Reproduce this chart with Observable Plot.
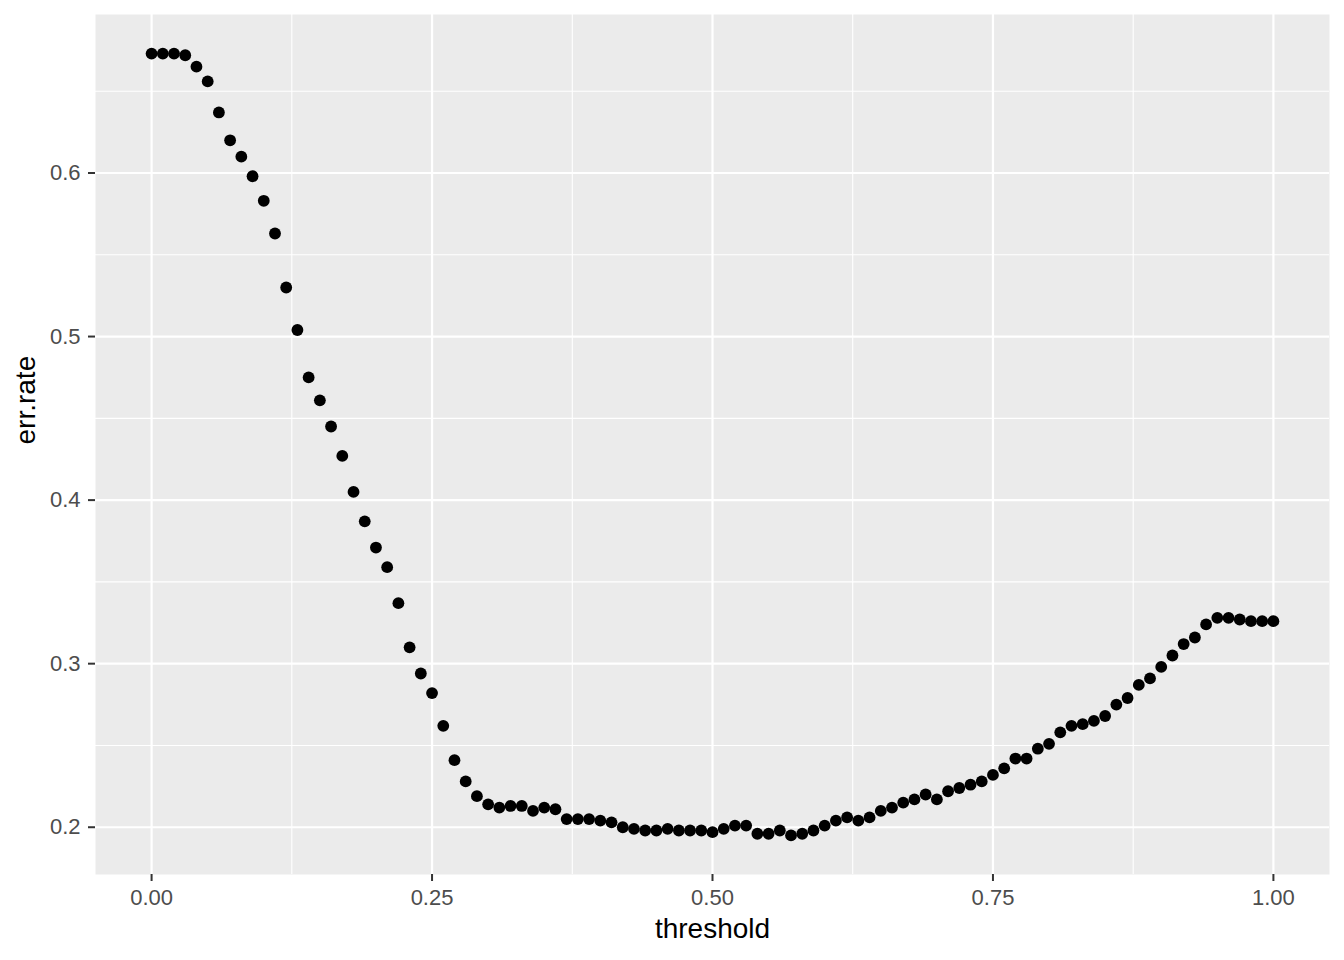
<!DOCTYPE html>
<html>
<head>
<meta charset="utf-8">
<script src="https://cdn.jsdelivr.net/npm/d3@7"></script>
<script src="https://cdn.jsdelivr.net/npm/@observablehq/plot@0.6"></script>
<style>
  html, body { margin: 0; padding: 0; background: #ffffff; }
  #chart svg { display: block; }
</style>
</head>
<body>
<div id="chart"></div>
<script>
const threshold = [0.00,0.01,0.02,0.03,0.04,0.05,0.06,0.07,0.08,0.09,
  0.10,0.11,0.12,0.13,0.14,0.15,0.16,0.17,0.18,0.19,
  0.20,0.21,0.22,0.23,0.24,0.25,0.26,0.27,0.28,0.29,
  0.30,0.31,0.32,0.33,0.34,0.35,0.36,0.37,0.38,0.39,
  0.40,0.41,0.42,0.43,0.44,0.45,0.46,0.47,0.48,0.49,
  0.50,0.51,0.52,0.53,0.54,0.55,0.56,0.57,0.58,0.59,
  0.60,0.61,0.62,0.63,0.64,0.65,0.66,0.67,0.68,0.69,
  0.70,0.71,0.72,0.73,0.74,0.75,0.76,0.77,0.78,0.79,
  0.80,0.81,0.82,0.83,0.84,0.85,0.86,0.87,0.88,0.89,
  0.90,0.91,0.92,0.93,0.94,0.95,0.96,0.97,0.98,0.99,1.00];

const errRate = [0.673,0.673,0.673,0.672,0.665,0.656,0.637,0.620,0.610,0.598,
  0.583,0.563,0.530,0.504,0.475,0.461,0.445,0.427,0.405,0.387,
  0.371,0.359,0.337,0.310,0.294,0.282,0.262,0.241,0.228,0.219,
  0.214,0.212,0.213,0.213,0.210,0.212,0.211,0.205,0.205,0.205,
  0.204,0.203,0.200,0.199,0.198,0.198,0.199,0.198,0.198,0.198,
  0.197,0.199,0.201,0.201,0.196,0.196,0.198,0.195,0.196,0.198,
  0.201,0.204,0.206,0.204,0.206,0.210,0.212,0.215,0.217,0.220,
  0.217,0.222,0.224,0.226,0.228,0.232,0.236,0.242,0.242,0.248,
  0.251,0.258,0.262,0.263,0.265,0.268,0.275,0.279,0.287,0.291,
  0.298,0.305,0.312,0.316,0.324,0.328,0.328,0.327,0.326,0.326,0.326];

const xMajor = [0, 0.25, 0.5, 0.75, 1];
const xMinor = [0.125, 0.375, 0.625, 0.875];
const yMajor = [0.2, 0.3, 0.4, 0.5, 0.6];
const yMinor = [0.25, 0.35, 0.45, 0.55, 0.65];

const data = threshold.map((t, i) => ({threshold: t, errRate: errRate[i]}));

function expand(ext) {
  const pad = (ext[1] - ext[0]) * 0.05;
  return [ext[0] - pad, ext[1] + pad];
}

const chart = Plot.plot({
  width: 1344,
  height: 960,
  marginLeft: 95,
  marginRight: 15,
  marginTop: 14,
  marginBottom: 86,
  style: {fontFamily: "'Liberation Sans', Arial, Helvetica, sans-serif", background: "#ffffff", fontSize: "22px"},
  x: {domain: expand(d3.extent(threshold)), axis: null},
  y: {domain: expand(d3.extent(errRate)), axis: null},
  marks: [
    Plot.frame({fill: "#EBEBEB", stroke: null}),
    Plot.ruleX(xMinor, {stroke: "#ffffff", strokeWidth: 1.1}),
    Plot.ruleY(yMinor, {stroke: "#ffffff", strokeWidth: 1.1}),
    Plot.ruleX(xMajor, {stroke: "#ffffff", strokeWidth: 2.2}),
    Plot.ruleY(yMajor, {stroke: "#ffffff", strokeWidth: 2.2}),
    Plot.axisX(xMajor, {tickFormat: d3.format(".2f"), tickSize: 7, tickPadding: 8, fontSize: 22, fill: "#4D4D4D", stroke: "#333333", strokeWidth: 2, label: null}),
    Plot.axisY(yMajor, {tickFormat: d3.format(".1f"), tickSize: 7, tickPadding: 8, fontSize: 22, fill: "#4D4D4D", stroke: "#333333", strokeWidth: 2, label: null}),
    Plot.dot(data, {x: "threshold", y: "errRate", r: 5.9, fill: "#000000", stroke: null}),
    Plot.text(["threshold"], {frameAnchor: "bottom", dy: 63, fontSize: 28, fill: "#000000"}),
    Plot.text(["err.rate"], {frameAnchor: "left", dx: -69, rotate: -90, fontSize: 28, fill: "#000000"})
  ]
});

document.getElementById("chart").appendChild(chart);
</script>
</body>
</html>
